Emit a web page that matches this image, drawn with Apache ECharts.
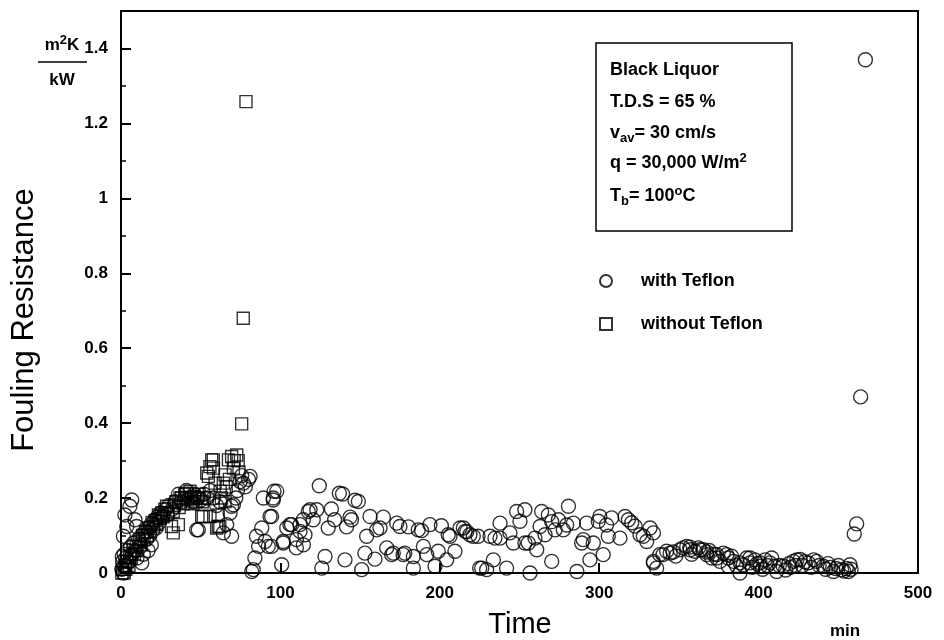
<!DOCTYPE html>
<html>
<head>
<meta charset="utf-8">
<script src="https://cdn.jsdelivr.net/npm/echarts@6/dist/echarts.min.js"></script>
<style>
html,body{margin:0;padding:0;background:#fff;}
#chart{width:944px;height:640px;}
</style>
</head>
<body>
<div id="chart"></div>
<script>
// Fouling resistance [m2K/kW] vs time [min]
const withTeflon = [
 [0.5,0.01],[1,0.03],[1.5,0.0],[2,0.05],[2.5,0.02],[3,0.04],[0.8,0.044],[1.5,0.098],[2.5,0.155],[3.6,0.124],
 [5.6,0.178],[6.7,0.195],[8.8,0.142],[9.8,0.124],[4,0.06],[5,0.03],[6,0.07],[7,0.05],[8,0.08],[9,0.06],
 [10,0.04],[11,0.09],[12,0.07],[13,0.1],[14,0.05],[15,0.11],[16,0.09],[17,0.12],[18,0.1],[19,0.13],
 [20,0.115],[21,0.14],[22,0.12],[23,0.15],[24,0.135],[25,0.16],[26,0.15],[28,0.17],[29,0.155],[30,0.18],
 [32,0.17],[34,0.19],[36,0.21],[38,0.19],[40,0.2],[41,0.22],[43,0.2],[45,0.19],[46,0.21],[48,0.2],
 [47.5,0.115],[48.5,0.115],[50,0.195],[52,0.21],[54,0.2],[56,0.22],[58,0.2],[60,0.18],[62,0.19],[64.2,0.107],
 [66.3,0.129],[68.4,0.16],[69.4,0.098],[69.4,0.178],[70.5,0.182],[72,0.2],[73,0.22],[74.7,0.244],[75.7,0.26],[76.8,0.24],
 [78,0.23],[81,0.258],[80,0.25],[13,0.027],[17,0.06],[19,0.075],
 [82,0.004],[84,0.04],[85,0.098],[88.3,0.12],[86.3,0.071],[90.4,0.084],[83,0.009],[89.3,0.2],[92.4,0.071],[93.5,0.151],
 [94.5,0.151],[95.5,0.2],[96,0.218],[97.7,0.218],[95.5,0.195],[94.5,0.071],[100.8,0.022],[101.8,0.08],[101.8,0.084],[104,0.12],
 [106,0.129],[107,0.129],[110,0.089],[110,0.067],[112.3,0.129],[112.3,0.111],[114.4,0.142],[114.4,0.075],[115.4,0.102],[117.5,0.164],
 [118.6,0.169],[120.6,0.142],[122.8,0.169],[124.4,0.233],[126,0.013],[128,0.044],[130,0.12],[132,0.171],[134,0.142],[137,0.213],
 [139,0.211],[140.5,0.035],[141.5,0.123],[143.7,0.149],[144.6,0.142],[146.8,0.194],[148.9,0.191],[151,0.009],[153,0.053],[154.1,0.098],
 [156.2,0.151],[159.3,0.037],[160.4,0.115],[162.5,0.12],[164.6,0.149],[166.7,0.067],[169.8,0.049],[170.8,0.053],[173,0.133],[175,0.124],
 [177,0.049],[178,0.053],[180.3,0.123],[183.4,0.044],[183.4,0.013],[186.5,0.115],[188.6,0.113],[189.7,0.071],[191.8,0.049],[193.8,0.129],
 [197,0.018],[199,0.058],[201,0.126],[204.3,0.035],[205.3,0.102],[206.4,0.098],[209.5,0.058],[212.7,0.12],[214.8,0.12],[215.8,0.111],
 [216.9,0.11],[218.9,0.102],[221,0.098],[224,0.098],[225,0.013],[226.3,0.013],[229.4,0.009],[231.5,0.098],[233.6,0.035],[234.6,0.093],
 [237.8,0.133],[237.8,0.093],[241.9,0.013],[244,0.107],[246.1,0.08],[248.2,0.164],[250.3,0.138],[253.4,0.169],[253.4,0.08],[255.5,0.08],
 [256.6,0.0],[259.7,0.093],[260.8,0.062],[262.9,0.124],[263.9,0.164],[266,0.102],[268.1,0.155],[270.2,0.137],[270.2,0.031],[272.3,0.115],
 [274.4,0.142],[277.5,0.115],[279.6,0.128],[280.7,0.178],[283.8,0.133],[286,0.004],[289,0.08],[290,0.089],[292.1,0.133],[294.2,0.035],
 [296.3,0.08],[299.4,0.138],[300.4,0.151],[302.5,0.049],[304.6,0.128],[305.7,0.098],[307.8,0.147],[313,0.093],[316.2,0.151],[318.3,0.142],
 [320.4,0.134],[322.5,0.125],[325.6,0.102],[327.7,0.098],[329.8,0.084],[331.9,0.12],[334,0.107],[334,0.027],[336,0.013],
 [334,0.031],[338,0.049],[340,0.049],[342.3,0.058],[344.5,0.053],[346.4,0.056],[348,0.045],[350.7,0.062],[352.7,0.067],[354.9,0.071],
 [356.9,0.069],[357,0.062],[358,0.05],[360,0.058],[362.3,0.067],[363.2,0.062],[365.3,0.062],[367.4,0.049],[367.4,0.056],[369,0.06],
 [370.6,0.04],[372,0.05],[373.7,0.049],[373.7,0.04],[375.8,0.031],[377.9,0.053],[380,0.049],[381,0.04],[381,0.018],[383,0.045],
 [384.2,0.031],[386,0.02],[388.3,0.0],[388.4,0.027],[390.4,0.022],[392.5,0.04],[394.6,0.027],[394.6,0.04],[396,0.015],[397.7,0.035],
 [399,0.025],[400.9,0.027],[400.9,0.018],[402.5,0.01],[404,0.035],[405.5,0.02],[407,0.027],[408.2,0.04],[410,0.018],[411.3,0.004],
 [413,0.02],[415.5,0.018],[417,0.008],[419,0.025],[420,0.015],[421.8,0.031],[423,0.02],[424,0.035],[426,0.036],[427.5,0.02],
 [429,0.03],[431.2,0.027],[433,0.015],[434.5,0.035],[436.4,0.031],[438,0.02],[440.6,0.018],[442,0.01],[443.5,0.025],[445,0.015],
 [446.9,0.004],[448.5,0.012],[450,0.02],[452.1,0.009],[453.5,0.005],[455,0.012],[456.3,0.004],[457.3,0.022],[458,0.01],[460,0.104],
 [461.5,0.131],[464,0.47],[467,1.37]
];
const withoutTeflon = [
 [0.5,0.0],[1,0.01],[2,0.0],[2.5,0.02],[3,0.01],[4,0.03],[5,0.02],[5.5,0.045],[6.5,0.04],[7.5,0.06],
 [8.5,0.05],[9.5,0.07],[10.5,0.06],[11.5,0.085],[12.5,0.075],[13.5,0.1],[14.5,0.09],[15.5,0.11],[16.5,0.1],[17.5,0.12],
 [18.5,0.11],[19.5,0.135],[20.5,0.125],[21.5,0.14],[22.5,0.13],[23.5,0.155],[24.5,0.145],[25.5,0.16],[26.5,0.15],[27.5,0.17],
 [28.6,0.178],[29.5,0.16],[31.7,0.124],[32.8,0.107],[32.8,0.164],[33.5,0.18],[34.5,0.19],[36,0.129],[36.5,0.175],[37,0.2],
 [38,0.2],[39,0.185],[40,0.21],[41.2,0.213],[42,0.195],[43.3,0.218],[44,0.2],[45,0.185],[46,0.205],[47,0.19],
 [48,0.2],[49,0.21],[50.6,0.151],[51,0.19],[51.6,0.151],[52,0.2],[53.8,0.267],[54.8,0.258],[55.8,0.284],[55.8,0.151],
 [56.9,0.302],[57.9,0.302],[58,0.28],[59,0.24],[60,0.12],[61,0.155],[61,0.124],[62,0.124],[62.2,0.218],[63,0.2],
 [64.2,0.24],[65.3,0.262],[65.3,0.191],[66,0.23],[67.4,0.302],[68,0.25],[69.4,0.311],[70.5,0.28],[71,0.3],[72.6,0.315],
 [73.5,0.3],[74,0.27],[75.7,0.398],[76.7,0.68],[78.4,1.258]
];
const xTickLabels = ['0','100','200','300','400','500'];
const yTickLabels = ['0','0.2','0.4','0.6','0.8','1','1.2','1.4'];
const seriesNames = ['with Teflon','without Teflon'];
const infoLines = [
 'Black Liquor',
 'T.D.S = 65 %',
 'v{sub|av}= 30 cm/s',
 'q = 30,000 W/m{sup|2}',
 'T{sub|b}= 100{sup|o}C'
];

const FONT = 'Liberation Sans, Arial, Helvetica, sans-serif';
const chart = echarts.init(document.getElementById('chart'), null, {renderer:'canvas'});
const richSS = {
  sub:{fontSize:13, fontWeight:'bold', fontFamily:FONT, fill:'#000', color:'#000', padding:[11,0,0,0]},
  sup:{fontSize:13, fontWeight:'bold', fontFamily:FONT, fill:'#000', color:'#000', padding:[0,0,9,0]}
};
function txt(x, y, text, opt){
  opt = opt || {};
  return {
    type:'text', x:x, y:y, rotation: opt.rotation || 0, silent:true,
    style:{
      text:text, fill:'#000', fontFamily:FONT,
      fontSize: opt.fontSize || 18, fontWeight: opt.fontWeight || 'bold',
      align: opt.align || 'left', verticalAlign:'middle',
      textAlign: opt.align || 'left', textVerticalAlign:'middle',
      rich: richSS
    }
  };
}
const infoY = [70, 102, 133, 163, 196];
const graphics = [
  {type:'rect', silent:true, shape:{x:596, y:43, width:196, height:188}, style:{fill:'none', stroke:'#000', lineWidth:1.5}},
  txt(62, 45, 'm{sup|2}K', {fontSize:17, align:'center'}),
  {type:'line', silent:true, shape:{x1:38, y1:62, x2:87, y2:62}, style:{stroke:'#000', lineWidth:1.5}},
  txt(62, 80, 'kW', {fontSize:17, align:'center'}),
  txt(24, 320, 'Fouling Resistance', {fontSize:31, fontWeight:'normal', align:'center', rotation:Math.PI/2}),
  txt(520, 625, 'Time', {fontSize:29, fontWeight:'normal', align:'center'}),
  txt(845, 631, 'min', {fontSize:17, fontWeight:'bold', align:'center'})
];
infoLines.forEach((t,i)=>graphics.push(txt(610, infoY[i], t, {fontSize:18})));

const mkStyle = {color:'rgba(0,0,0,0)', borderColor:'#000', borderWidth:1.4};
chart.setOption({
  animation:false,
  backgroundColor:'#fff',
  grid:{left:121, right:26, top:11, bottom:67, show:true, borderColor:'#000', borderWidth:2, backgroundColor:'transparent'},
  legend:{
    orient:'vertical', left:599, top:271, padding:0, itemGap:23,
    itemWidth:12, itemHeight:12,
    data:seriesNames,
    textStyle:{fontFamily:FONT, fontSize:18, fontWeight:'bold', color:'#000', lineHeight:20, padding:[0,0,0,24]},
    inactiveColor:'#000'
  },
  xAxis:{
    type:'value', min:0, max:500, interval:100,
    axisLine:{show:true, onZero:false, lineStyle:{color:'#000', width:2}},
    axisTick:{show:true, inside:true, length:10, lineStyle:{color:'#000', width:2}},
    axisLabel:{margin:12, color:'#000', fontFamily:FONT, fontSize:17, fontWeight:'bold',
      formatter:(v)=>xTickLabels[Math.round(v/100)] ?? ''},
    splitLine:{show:false}
  },
  yAxis:[{
    type:'value', min:0, max:1.5, interval:0.2, position:'left',
    axisLine:{show:true, onZero:false, lineStyle:{color:'#000', width:2}},
    axisTick:{show:true, inside:true, length:10, lineStyle:{color:'#000', width:2}},
    axisLabel:{margin:13, color:'#000', fontFamily:FONT, fontSize:17, fontWeight:'bold',
      formatter:(v)=>{ const i = Math.round(v/0.2); return (Math.abs(v - i*0.2) < 1e-6 && yTickLabels[i] !== undefined) ? yTickLabels[i] : ''; }},
    splitLine:{show:false}
  },{
    type:'value', min:0, max:1.5, interval:0.1, position:'left', offset:0,
    axisLine:{show:false},
    axisTick:{show:true, inside:true, length:5, lineStyle:{color:'#000', width:1.5}},
    axisLabel:{show:false},
    splitLine:{show:false}
  }],
  series:[
    {name:seriesNames[0], type:'scatter', yAxisIndex:0, data:withTeflon, symbol:'circle', symbolSize:14, itemStyle:mkStyle, emphasis:{disabled:true}},
    {name:seriesNames[1], type:'scatter', yAxisIndex:0, data:withoutTeflon, symbol:'rect', symbolSize:12, itemStyle:mkStyle, emphasis:{disabled:true}}
  ],
  graphic:graphics
});
</script>
</body>
</html>
